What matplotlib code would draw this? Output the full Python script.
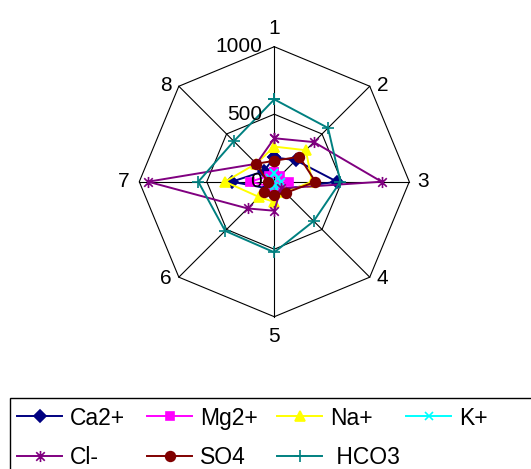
import numpy as np
import matplotlib
matplotlib.use('Agg')
import matplotlib.pyplot as plt
from matplotlib.path import Path
from matplotlib.patches import Rectangle
from matplotlib.transforms import offset_copy

plt.rcParams['font.family'] = ['Liberation Sans', 'DejaVu Sans']
plt.rcParams['font.size'] = 15

categories = ['1', '2', '3', '4', '5', '6', '7', '8']
ca = [180, 225, 465, 78, 98, 70, 315, 110]
mg = [70, 60, 112, 50, 50, 50, 178, 60]
na = [260, 330, 280, 110, 150, 160, 365, 190]
k = [65, 40, 50, 45, 30, 40, 30, 40]
cl = [322, 415, 795, 70, 215, 280, 935, 188]
so4 = [155, 262, 305, 118, 96, 106, 50, 188]
hco3 = [610, 563, 490, 413, 523, 515, 563, 424]
rings = [500, 1000]
ring_labels = ['0', '500', '1000']

# asterisk marker like excel's star: x plus vertical bar
star = Path([(-1, -1), (1, 1), (-1, 1), (1, -1), (0, -1.3), (0, 1.3)],
            [Path.MOVETO, Path.LINETO] * 3)

series = [
  ('Ca2+', ca, '#000080', 'D', 6),
  ('Mg2+', mg, '#FF00FF', 's', 5.5),
  ('Na+', na, '#FFFF00', '^', 7),
  ('K+', k, '#00FFFF', 'x', 6),
  ('Cl-', cl, '#800080', star, 8),
  ('SO4', so4, '#800000', 'o', 7),
  (' HCO3', hco3, '#008080', '+', 9),
]

fig = plt.figure(figsize=(5.31, 4.69), dpi=100)
ax = fig.add_axes([0.2623, 0.3247, 0.5085, 0.5757], projection='polar')
ax.set_theta_zero_location('N')
ax.set_theta_direction(-1)
ax.set_ylim(0, 1000)
ax.grid(False)
ax.spines['polar'].set_visible(False)
ax.set_xticks([])
ax.set_yticks([])
ax.patch.set_visible(False)

n = len(categories)
theta = np.arange(n) * 2 * np.pi / n
theta_c = np.append(theta, theta[0])

# octagon grid + spokes
for r in rings:
  ax.plot(theta_c, [r] * (n + 1), color='black', lw=0.8, clip_on=False)
for t in theta:
  ax.plot([t, t], [0, rings[-1]], color='black', lw=0.8, clip_on=False)

handles = {}
for name, vals, col, mk, ms in series:
  v = np.append(vals, vals[0])
  ln, = ax.plot(theta_c, v, color=col, lw=1.4, marker=mk, markersize=ms,
                markerfacecolor=col if mk not in ('x', '+') and not isinstance(mk, Path) else 'none',
                markeredgecolor=col, markeredgewidth=1.2, label=name, clip_on=False)
  handles[name] = ln

# radial value labels
tr = offset_copy(ax.transData, fig=fig, x=-12, y=0, units='dots')
for r, s in zip([0] + rings, ring_labels):
  ax.text(0, r, s, transform=tr, ha='right', va='center')

# category labels (pixel offsets from the outer vertex)
lab_off = [(0, 18), (13, 1), (14, 0), (13, -1), (0, -20), (-13, -1), (-16, 0), (-13, 1)]
for t, lbl, (dx, dy) in zip(theta, categories, lab_off):
  ax.annotate(lbl, xy=(t, rings[-1]), xytext=(dx * 0.72, dy * 0.72),
              textcoords='offset points', ha='center', va='center')

# legend: excel-like fixed-width columns, one legend per column
cols = [['Ca2+', 'Cl-'], ['Mg2+', 'SO4'], ['Na+', ' HCO3'], ['K+']]
col_x = [17, 147, 277, 406]
for names, x0 in zip(cols, col_x):
  lg = fig.legend([handles[o] for o in names], names, loc='upper left',
                  bbox_to_anchor=(x0 / 531, 1 - 406.5 / 469), frameon=False,
                  borderpad=0, borderaxespad=0, handlelength=1.97, handletextpad=0.35,
                  labelspacing=0.74, fontsize=16.5)
fig.patches.append(Rectangle((9.5 / 531, -0.1), 1.1, 0.1 + (469 - 398.5) / 469,
                             transform=fig.transFigure, fill=False, ec='black', lw=1))

fig.savefig('out.png', dpi=100)
